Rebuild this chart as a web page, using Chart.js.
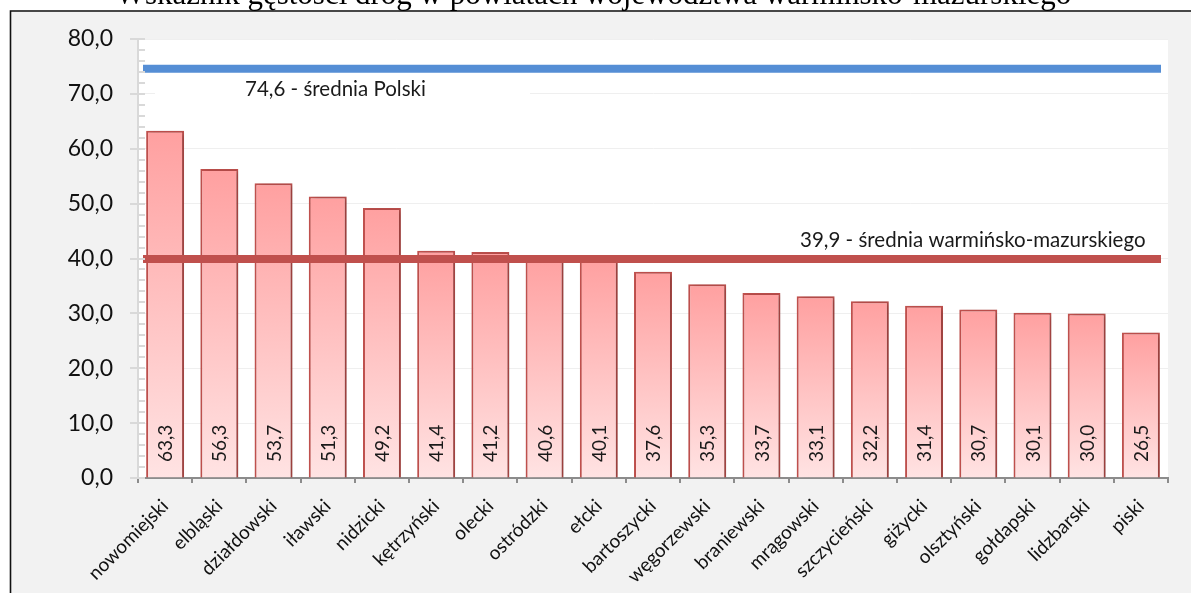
<!DOCTYPE html>
<html lang="pl">
<head>
<meta charset="utf-8">
<title>Wskaźnik gęstości dróg</title>
<script src="https://cdn.jsdelivr.net/npm/chart.js@4/dist/chart.umd.min.js"></script>
<style>
  html, body { margin: 0; padding: 0; background: #ffffff; }
  #wrap { width: 1191px; height: 593px; position: relative; }
</style>
</head>
<body>
<div id="wrap"><canvas id="chart" width="1191" height="593"></canvas></div>
<script>
// Powiaty województwa warmińsko-mazurskiego
const powiaty = [
  'nowomiejski', 'elbląski', 'działdowski', 'iławski', 'nidzicki',
  'kętrzyński', 'olecki', 'ostródzki', 'ełcki', 'bartoszycki',
  'węgorzewski', 'braniewski', 'mrągowski', 'szczycieński', 'giżycki',
  'olsztyński', 'gołdapski', 'lidzbarski', 'piski'
];

// Gęstość dróg (km / 100 km²)
const gestosc = [
  63.3, 56.3, 53.7, 51.3, 49.2,
  41.4, 41.2, 40.6, 40.1, 37.6,
  35.3, 33.7, 33.1, 32.2, 31.4,
  30.7, 30.1, 30.0, 26.5
];

// Średnie odniesienia
const sredniaPolski = 74.6;
const sredniaWojewodztwa = 39.9;

const yTicks = [0, 10, 20, 30, 40, 50, 60, 70, 80];

const tytul = 'Wskaźnik gęstości dróg w powiatach województwa warmińsko-mazurskiego';
const opisPolski = '74,6 - średnia Polski';
const opisWojewodztwa = '39,9 - średnia warmińsko-mazurskiego';

const SANS = 'Lato, "Open Sans", sans-serif';
const fmt = v => v.toFixed(1).replace('.', ',');

// Tło ramki, biały obszar wykresu i tytuł
const framePlugin = {
  id: 'frame',
  beforeDraw(chart) {
    const { ctx, chartArea: a, width, height } = chart;
    ctx.save();
    ctx.fillStyle = '#ffffff';
    ctx.fillRect(0, 0, width, height);
    ctx.fillStyle = '#f2f2f2';
    ctx.fillRect(10, 10, width - 10, height - 10);
    ctx.strokeStyle = '#111111';
    ctx.lineWidth = 1.6;
    ctx.beginPath();
    ctx.moveTo(10.5, height);
    ctx.lineTo(10.5, 11);
    ctx.lineTo(width, 11);
    ctx.stroke();
    ctx.fillStyle = '#ffffff';
    ctx.fillRect(a.left, a.top, a.right - a.left, a.bottom - a.top);
    ctx.restore();
  },
  afterDraw(chart) {
    const { ctx, width } = chart;
    ctx.save();
    ctx.fillStyle = '#000000';
    ctx.font = '31px "Liberation Serif", "Times New Roman", serif';
    ctx.textAlign = 'center';
    ctx.textBaseline = 'alphabetic';
    ctx.fillText(tytul, width / 2 - 2, 4);
    ctx.restore();
  }
};

// Drobne znaczniki osi Y (co 2 jednostki) i dłuższe przy wartościach głównych
const yMinorTicks = {
  id: 'yMinorTicks',
  afterDraw(chart) {
    const { ctx, chartArea: a, scales: { y } } = chart;
    ctx.save();
    ctx.strokeStyle = '#d9d9d9';
    ctx.lineWidth = 2;
    for (let v = y.min; v <= y.max; v += 2) {
      const py = Math.round(y.getPixelForValue(v));
      const major = v % 10 === 0;
      ctx.beginPath();
      ctx.moveTo(a.left - (major ? 8 : 0), py);
      ctx.lineTo(a.left + 7, py);
      ctx.stroke();
    }
    ctx.restore();
  }
};

// Cień słupków
const barShadow = {
  id: 'barShadow',
  beforeDatasetDraw(chart) {
    const ctx = chart.ctx;
    ctx.save();
    ctx.shadowColor = 'rgba(0,0,0,0.25)';
    ctx.shadowBlur = 5;
    ctx.shadowOffsetX = 3;
    ctx.shadowOffsetY = 1;
  },
  afterDatasetDraw(chart) {
    chart.ctx.restore();
  }
};

// Linie średnich i ich opisy
const averages = {
  id: 'averages',
  afterDatasetsDraw(chart) {
    const { ctx, chartArea: a, scales: { y } } = chart;
    const yPl = y.getPixelForValue(sredniaPolski);
    const yWm = y.getPixelForValue(sredniaWojewodztwa);
    ctx.save();

    // opis średniej krajowej na białym polu
    ctx.fillStyle = '#ffffff';
    ctx.fillRect(a.left + 17, yPl + 4, 375, 38);

    ctx.lineWidth = 8;
    ctx.lineCap = 'butt';
    ctx.strokeStyle = '#558ed5';
    ctx.beginPath();
    ctx.moveTo(a.left + 5, yPl);
    ctx.lineTo(a.right - 7, yPl);
    ctx.stroke();

    ctx.strokeStyle = '#c0504d';
    ctx.beginPath();
    ctx.moveTo(a.left + 5, yWm);
    ctx.lineTo(a.right - 7, yWm);
    ctx.stroke();

    ctx.fillStyle = '#1a1a1a';
    ctx.font = '20.5px ' + SANS;
    ctx.textBaseline = 'middle';
    ctx.textAlign = 'left';
    ctx.fillText(opisPolski, a.left + 107, yPl + 21);
    ctx.fillText(opisWojewodztwa, a.left + 662, yWm - 19);
    ctx.restore();
  }
};

// Wartości wpisane pionowo u podstawy słupków
const valueLabels = {
  id: 'valueLabels',
  afterDatasetsDraw(chart) {
    const { ctx, scales: { y } } = chart;
    const meta = chart.getDatasetMeta(0);
    const base = y.getPixelForValue(0);
    ctx.save();
    ctx.fillStyle = '#1a1a1a';
    ctx.font = '19px ' + SANS;
    ctx.textAlign = 'left';
    ctx.textBaseline = 'middle';
    meta.data.forEach((bar, i) => {
      ctx.save();
      ctx.translate(bar.x + 1, base - 16);
      ctx.rotate(-Math.PI / 2);
      ctx.fillText(fmt(gestosc[i]), 0, 0);
      ctx.restore();
    });
    ctx.restore();
  }
};

function barGradient(context) {
  const chart = context.chart;
  const y = chart.scales.y;
  if (!chart.chartArea || !y) return '#ffb3b3';
  const top = y.getPixelForValue(context.raw);
  const bottom = y.getPixelForValue(0);
  const g = chart.ctx.createLinearGradient(0, top, 0, bottom);
  g.addColorStop(0, '#ffa0a0');
  g.addColorStop(1, '#ffe3e3');
  return g;
}

new Chart(document.getElementById('chart'), {
  type: 'bar',
  data: {
    labels: powiaty,
    datasets: [{
      data: gestosc,
      backgroundColor: barGradient,
      borderColor: '#c0504d',
      borderWidth: 2,
      borderSkipped: 'bottom',
      barPercentage: 0.7,
      categoryPercentage: 1.0
    }]
  },
  options: {
    responsive: false,
    animation: false,
    events: [],
    layout: { padding: { left: 0, top: 39, right: 23, bottom: 0 } },
    plugins: {
      legend: { display: false },
      title: { display: false },
      tooltip: { enabled: false }
    },
    scales: {
      x: {
        offset: true,
        afterFit(scale) { scale.height = 115; },
        grid: {
          offset: true,
          drawOnChartArea: false,
          drawTicks: true,
          tickLength: 5,
          color: '#8c8c8c',
          lineWidth: 2
        },
        border: { display: true, color: '#8c8c8c', width: 2 },
        ticks: {
          autoSkip: false,
          maxRotation: 45,
          minRotation: 45,
          padding: 12,
          color: '#111111',
          font: { family: SANS, size: 19 }
        }
      },
      y: {
        min: 0,
        max: 80,
        afterFit(scale) { scale.width = 138; },
        afterBuildTicks(scale) { scale.ticks = yTicks.map(v => ({ value: v })); },
        grid: {
          drawTicks: false,
          color: '#efefef',
          lineWidth: 1
        },
        border: { display: true, color: '#d9d9d9', width: 2 },
        ticks: {
          padding: 25,
          color: '#111111',
          font: { family: SANS, size: 23 },
          callback: v => fmt(v)
        }
      }
    }
  },
  plugins: [framePlugin, barShadow, averages, valueLabels, yMinorTicks]
});
</script>
</body>
</html>
